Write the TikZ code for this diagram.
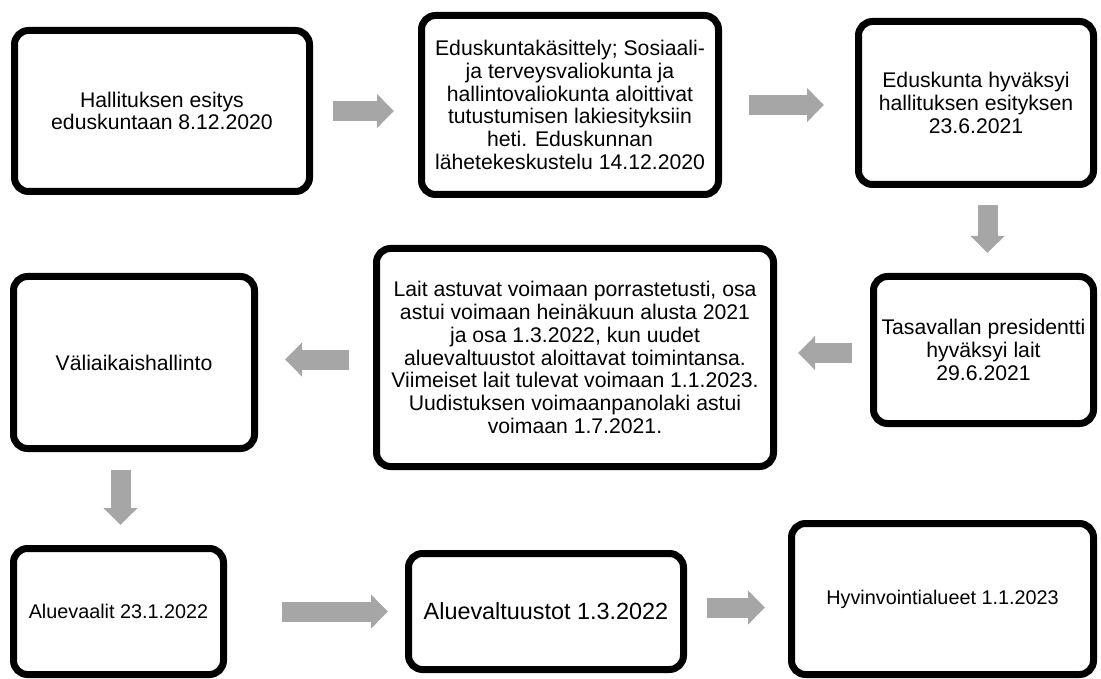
\documentclass[tikz,border=0pt]{standalone}
\usepackage{fontspec}
\setmainfont{Liberation Sans}
\usetikzlibrary{arrows.meta,shadows}
\definecolor{arrowgray}{RGB}{166,166,166}

\begin{document}
\begin{tikzpicture}[x=1pt,y=-1pt,
  stage/.style={draw,line width=7pt,rounded corners=14pt,fill=white,align=center,inner sep=0pt,
    font=\fontsize{21.2}{22.8}\selectfont,
    drop shadow={opacity=0.25,shadow xshift=1pt,shadow yshift=-2pt}},
  flow/.style={draw=arrowgray,line width=20pt,-{Triangle[length=17pt,width=33pt]}}]
\useasboundingbox (0,0) rectangle (1101,679);

\node[stage,minimum width=295pt,minimum height=161pt] (hall) at (162,111)
  {Hallituksen esitys\\eduskuntaan 8.12.2020};
\node[stage,minimum width=297pt,minimum height=179pt] (edus) at (570,105)
  {Eduskuntakäsittely; Sosiaali-\\ja terveysvaliokunta ja\\hallintovaliokunta aloittivat\\tutustumisen lakiesityksiin\\heti. Eduskunnan\\lähetekeskustelu 14.12.2020};
\node[stage,minimum width=235pt,minimum height=163pt] (hyv) at (976,103)
  {Eduskunta hyväksyi\\hallituksen esityksen\\23.6.2021};
\node[stage,minimum width=220pt,minimum height=147pt] (tasa) at (983.5,350)
  {Tasavallan presidentti\\hyväksyi lait\\29.6.2021};
\node[stage,minimum width=397pt,minimum height=218pt] (lait) at (575,357.5)
  {Lait astuvat voimaan porrastetusti, osa\\astui voimaan heinäkuun alusta 2021\\ja osa 1.3.2022, kun uudet\\aluevaltuustot aloittavat toimintansa.\\Viimeiset lait tulevat voimaan 1.1.2023.\\Uudistuksen voimaanpanolaki astui\\voimaan 1.7.2021.};
\node[stage,minimum width=241pt,minimum height=172pt] (vali) at (134,362.5)
  {Väliaikaishallinto};
\node[stage,minimum width=210pt,minimum height=126pt,font=\fontsize{19.8}{22.8}\selectfont] (alue) at (118.5,611.5)
  {Aluevaalit 23.1.2022};
\node[stage,minimum width=275pt,minimum height=116pt,font=\fontsize{23.4}{22.8}\selectfont] (valt) at (546,611.5)
  {Aluevaltuustot 1.3.2022};
\node[stage,minimum width=302pt,minimum height=151pt,font=\fontsize{19.8}{22.8}\selectfont] (hyvi) at (942.5,599)
  {Hyvinvointialueet 1.1.2023};

\draw[flow] ([xshift=20pt]hall.east) -- ([xshift=-24pt]edus.west |- hall.east);
\draw[flow] ([xshift=27pt]edus.east) -- ([xshift=-31pt]hyv.west |- edus.east);
\draw[flow] ([xshift=4pt,yshift=-17pt]tasa.north |- hyv.south) -- ([xshift=4pt,yshift=20pt]tasa.north);
\draw[flow] ([xshift=-18pt,yshift=-3pt]tasa.west) -- ([xshift=21pt,yshift=-3pt]lait.east |- tasa.west);
\draw[flow] ([xshift=-24pt,yshift=-2pt]lait.west) -- ([xshift=27pt,yshift=-2pt]vali.east |- lait.west);
\draw[flow] ([xshift=2pt,yshift=-18pt]alue.north |- vali.south) -- ([xshift=2pt,yshift=20pt]alue.north);
\draw[flow] ([xshift=55pt]alue.east) -- ([xshift=-17pt]valt.west |- alue.east);
\draw[flow] ([xshift=20pt,yshift=4pt]valt.east) -- ([xshift=-23pt,yshift=4pt]hyvi.west |- valt.east);
\end{tikzpicture}
\end{document}
